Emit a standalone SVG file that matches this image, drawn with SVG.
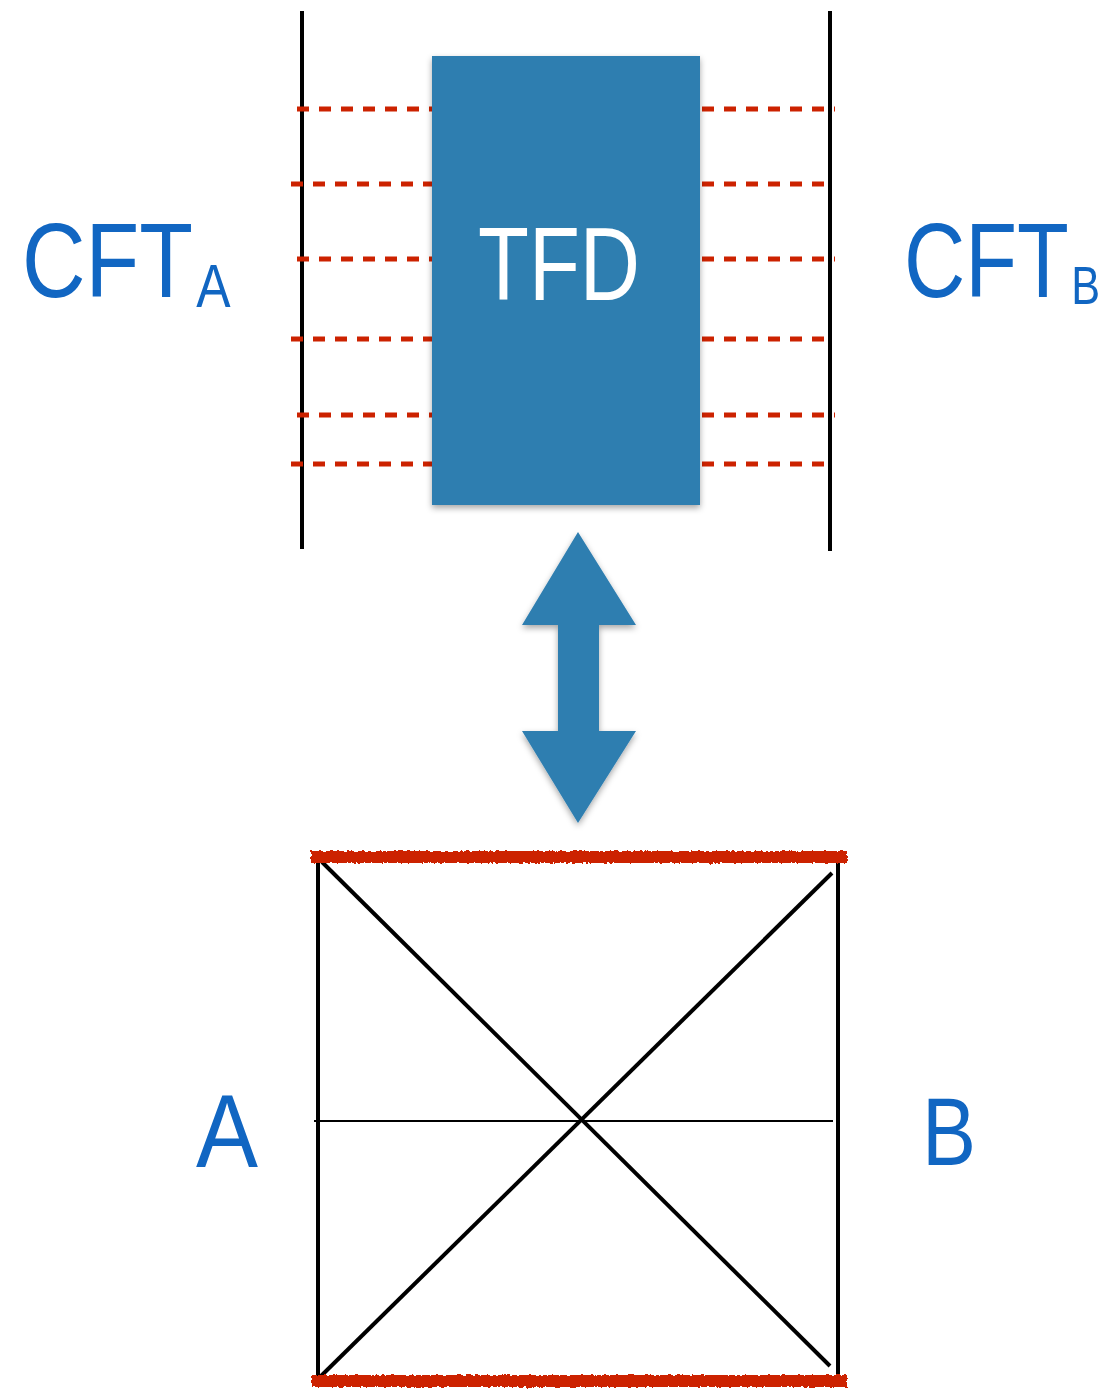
<svg xmlns="http://www.w3.org/2000/svg" width="1105" height="1390" viewBox="0 0 1105 1390">
<style>
.axis{stroke:#000;stroke-width:4;fill:none}
.dash{stroke:#cc2200;stroke-width:5;stroke-dasharray:12 10;fill:none}
.edge{fill:#cc2200}
.thin{stroke:#000;stroke-width:2;fill:none}
.lbl{font-family:"Liberation Sans","DejaVu Sans",sans-serif;fill:#1166c2}
.tfd{font-family:"Liberation Sans","DejaVu Sans",sans-serif;fill:#fff}
.blue{fill:#2f7eb0}
</style>
<defs>
<filter id="shadow" x="-10%" y="-10%" width="120%" height="120%">
<feDropShadow dx="0" dy="3" stdDeviation="3" flood-color="#000" flood-opacity="0.35"/>
</filter>
<filter id="rough" filterUnits="userSpaceOnUse" x="0" y="820" width="1105" height="570">
<feTurbulence type="fractalNoise" baseFrequency="0.3" numOctaves="2" seed="3"/>
<feDisplacementMap in="SourceGraphic" scale="4"/>
</filter>
</defs>
<g id="cft-axes">
<line class="axis" x1="302" y1="11" x2="302" y2="549"/>
<line class="axis" x1="830" y1="11" x2="830" y2="551"/>
</g>
<g id="connectors">
<line class="dash" x1="297" y1="109" x2="432" y2="109"/>
<line class="dash" x1="291" y1="184" x2="432" y2="184"/>
<line class="dash" x1="297" y1="259" x2="432" y2="259"/>
<line class="dash" x1="291" y1="339" x2="432" y2="339"/>
<line class="dash" x1="297" y1="415" x2="432" y2="415"/>
<line class="dash" x1="291" y1="464" x2="432" y2="464"/>
<line class="dash" x1="702" y1="109" x2="835" y2="109"/>
<line class="dash" x1="702" y1="184" x2="828" y2="184"/>
<line class="dash" x1="702" y1="259" x2="835" y2="259"/>
<line class="dash" x1="702" y1="339" x2="828" y2="339"/>
<line class="dash" x1="702" y1="415" x2="835" y2="415"/>
<line class="dash" x1="702" y1="464" x2="828" y2="464"/>
</g>
<g id="tfd">
<rect class="blue" x="432" y="56" width="268" height="449" filter="url(#shadow)"/>
<text class="tfd" x="559" y="300" font-size="104" text-anchor="middle" textLength="162" lengthAdjust="spacingAndGlyphs">TFD</text>
</g>
<g id="arrow">
<polygon class="blue" filter="url(#shadow)" points="578,532 636,625 599,625 599,731 636,731 578,823 522,731 558,731 558,625 522,625"/>
</g>
<g id="cft-a">
<text class="lbl" transform="translate(22,297) scale(0.83,1)" font-size="106">CFT<tspan font-size="62" dx="4" dy="10">A</tspan></text>
</g>
<g id="cft-b">
<text class="lbl" transform="translate(904,297) scale(0.8,1)" font-size="106">CFT<tspan font-size="54" dx="3" dy="7">B</tspan></text>
</g>
<g id="penrose">
<line class="axis" x1="318" y1="855" x2="318" y2="1387"/>
<line class="axis" x1="838" y1="855" x2="838" y2="1385"/>
<line class="axis" x1="322" y1="862" x2="830" y2="1366"/>
<line class="axis" x1="832" y1="873" x2="320" y2="1377"/>
<line class="thin" x1="314" y1="1121" x2="833" y2="1121"/>
<g filter="url(#rough)">
<rect class="edge" x="311" y="851" width="536" height="12"/>
<rect class="edge" x="311" y="1375" width="536" height="12"/>
</g>
</g>
<g id="label-a">
<text class="lbl" x="196" y="1167" font-size="104" textLength="62" lengthAdjust="spacingAndGlyphs">A</text>
</g>
<g id="label-b">
<text class="lbl" x="922" y="1165" font-size="96" textLength="54" lengthAdjust="spacingAndGlyphs">B</text>
</g>
</svg>
